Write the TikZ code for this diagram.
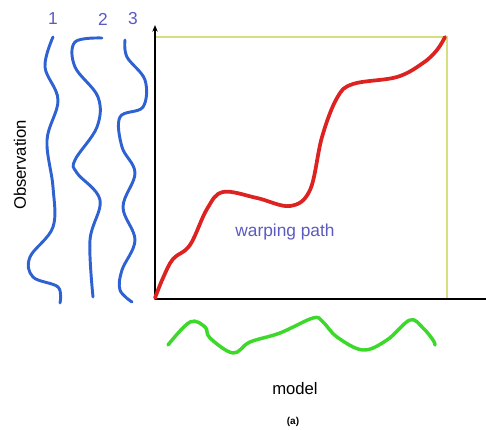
\documentclass[tikz,border=0pt]{standalone}
\usepackage{fontspec}
\setmainfont{Liberation Sans}
\usetikzlibrary{arrows.meta}
\definecolor{obsblue}{HTML}{2E62D2}
\definecolor{labblue}{HTML}{5A5AC0}
\definecolor{pathred}{HTML}{DD2222}
\definecolor{modgreen}{HTML}{3CD82A}
\definecolor{boxyellow}{HTML}{D6DE80}
\begin{document}
\begin{tikzpicture}[x=0.75pt,y=-0.75pt,
  sig/.style={line width=2.2pt,line cap=round,line join=round},
  lab/.style={font=\fontsize{13}{15}\selectfont,text=labblue,inner sep=0pt},
  txt/.style={font=\fontsize{12.5}{15}\selectfont,inner sep=0pt},
  axis/.style={line width=1.4pt,black}]
\useasboundingbox (0,0) rectangle (486,429);
% coordinates of the plot
\coordinate (o) at (155,299);
\coordinate (ytop) at (155,25);
\coordinate (xend) at (486,299);
\coordinate (tr) at (447,37);
% box
\draw[boxyellow,line width=1.2pt] (o) rectangle (tr);
% axes
\draw[axis,-{Stealth[length=5pt,width=4pt]}] (o) -- (ytop);
\draw[axis] (o) -- (xend);
% warping path
\draw[sig,pathred,line width=2.8pt] plot[smooth,tension=0.6] coordinates {
 (155,298) (163,278) (173,259) (190,245) (207,209) (223,192) (257,198) (290,206)
 (310,190) (322,137) (337,98) (353,84) (397,77) (423,63) (437,50) (445,37)};
\node[lab] (wp) at (285,232) {warping path};
% observation sequences
\draw[sig,obsblue] plot[smooth,tension=0.6] coordinates {
 (53,37) (45,67) (58,100) (47,140) (53,187) (53,227) (30,257) (33,277) (58,287) (60,303)};
\draw[sig,obsblue] plot[smooth,tension=0.6] coordinates {
 (102,38) (75,42) (75,67) (98,97) (97,127) (75,160) (77,173) (100,200) (90,240) (93,297)};
\draw[sig,obsblue] plot[smooth,tension=0.6] coordinates {
 (125,40) (127,57) (145,80) (143,107) (120,117) (122,147) (135,173) (123,207) (135,240) (122,270) (120,290) (132,302)};
\node[lab] (l1) at (53,19) {1};
\node[lab] (l2) at (103,19) {2};
\node[lab] (l3) at (133,19) {3};
\node[txt,rotate=90] (obs) at (20,165) {Observation};
% model sequence
\draw[sig,modgreen,line width=2.6pt] plot[smooth,tension=0.6] coordinates {
 (168,345) (190,322) (205,327) (210,338) (233,353) (250,342) (280,333) (313,318)
 (323,322) (337,337) (363,350) (387,340) (410,320) (423,328) (433,340) (435,345)};
\node[txt] (model) at (295,389) {model};
\node[font=\fontsize{7.5}{9}\selectfont\bfseries,inner sep=0pt] (cap) at (293,422) {(a)};
\end{tikzpicture}
\end{document}
